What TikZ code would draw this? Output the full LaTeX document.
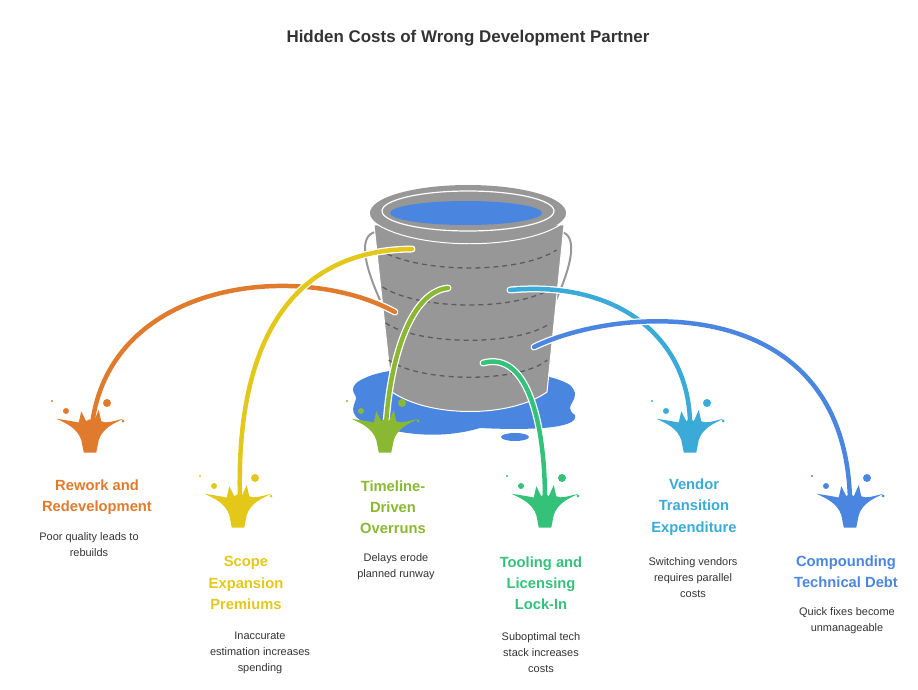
\documentclass[tikz,border=0pt]{standalone}
\usepackage{fontspec}
\setmainfont{Liberation Sans}
\definecolor{cor}{HTML}{E07B2E}
\definecolor{cye}{HTML}{E3C81A}
\definecolor{cgr}{HTML}{8AB833}
\definecolor{ctl}{HTML}{34C27A}
\definecolor{ccy}{HTML}{3AAAD8}
\definecolor{cbl}{HTML}{4A86E0}
\definecolor{bkt}{HTML}{979797}
\definecolor{txt}{HTML}{333333}
\tikzset{
 head/.style={font=\bfseries\fontsize{14.8}{21.3}\selectfont,align=center},
 desc/.style={font=\fontsize{11}{16}\selectfont,align=center,text=txt},
 stream/.style={line width=4.5pt,line cap=round},
 halo/.style={line width=7pt,white,line cap=round},
 splash/.pic={
  \fill[scale=1.25] (-27,-5) .. controls (-18,-1) and (-10,3) .. (-7,12) -- (-5,22) -- (5,22) -- (7,12) .. controls (10,3) and (18,-1) .. (27,-5)
   .. controls (18,-3) and (13,-1) .. (9,-3) -- (7,-12) -- (3,-3) .. controls (1,-5) and (-1,-5) .. (-3,-3) -- (-7,-11) -- (-9,-2) .. controls (-14,-3) and (-20,-4) .. cycle;
  \fill (-24,-14) circle (3); \fill (17,-22) circle (4); \fill (33,-4) circle (1.5); \fill (-38,-24) circle (1.2);
 }
}
\begin{document}
\begin{tikzpicture}[x=1bp,y=-1bp]
\useasboundingbox (0,0) rectangle (918,690);
\node[font=\bfseries\fontsize{17}{21}\selectfont,text=txt] (title) at (468,38) {Hidden Costs of Wrong Development Partner};
% puddle
\fill[cbl] (365,378) .. controls (400,360) and (540,365) .. (570,385) .. controls (585,400) and (560,405) .. (575,415) .. controls (580,430) and (520,430) .. (480,428) .. controls (440,440) and (395,435) .. (360,420) .. controls (345,410) and (360,400) .. (355,395) .. controls (350,388) and (355,382) .. cycle;
\fill[cbl] (515,437) ellipse (14 and 4);
% handles
\draw[bkt,line width=2pt] (375,232) .. controls (360,236) and (362,260) .. (380,300);
\draw[bkt,line width=2pt] (562,232) .. controls (576,236) and (574,260) .. (556,300);
% body
\fill[bkt,draw=white,line width=1pt] (374,225) -- (392,392) .. controls (430,418) and (510,418) .. (547,392) -- (564,225) -- cycle;
\foreach \y/\s in {258/16,295/16,331/15,368/15}
 \draw[txt!80,line width=1.3pt,dash pattern=on 5pt off 4pt] (378+\y/12-20,\y-8) .. controls (420,\y+\s) and (520,\y+\s) .. (558-\y/12+20,\y-8);
% rim
\fill[bkt] (468,213) ellipse (98 and 28);
\draw[white,line width=1.2pt] (468,211) ellipse (86 and 20);
\fill[cbl] (466,213) ellipse (76 and 12);
\draw[white,line width=1pt] (378,225) .. controls (420,250) and (520,250) .. (560,225);
% streams
\foreach \c/\a/\b/\d/\e in {cor/{395,312}/{300,260}/{110,280}/{92,425},
 cye/{412,249}/{300,250}/{235,330}/{240,500},
 cgr/{448,288}/{410,292}/{390,360}/{386,425},
 ctl/{483,363}/{530,350}/{545,430}/{545,500},
 ccy/{510,290}/{620,280}/{690,340}/{690,425},
 cbl/{534,347}/{620,305}/{845,290}/{850,500}}{
 \draw[halo] (\a) .. controls (\b) and (\d) .. (\e);
 \draw[stream,\c] (\a) .. controls (\b) and (\d) .. (\e);
}
\pic[cor] (s1) at (90,425) {splash};
\pic[cye] (s2) at (238,500) {splash};
\pic[cgr] (s3) at (385,425) {splash};
\pic[ctl] (s4) at (545,500) {splash};
\pic[ccy] (s5) at (690,425) {splash};
\pic[cbl] (s6) at (850,500) {splash};
% labels
\node[head,text=cor] (h1) at (97,497) {Rework and\\Redevelopment};
\node[desc] (d1) at (89,545) {Poor quality leads to\\rebuilds};
\node[head,text=cye] (h2) at (246,583) {Scope\\Expansion\\Premiums};
\node[desc] (d2) at (260,653) {Inaccurate\\estimation increases\\spending};
\node[head,text=cgr] (h3) at (393,507) {Timeline-\\Driven\\Overruns};
\node[desc] (d3) at (396,567) {Delays erode\\planned runway};
\node[head,text=ctl] (h4) at (541,583) {Tooling and\\Licensing\\Lock-In};
\node[desc] (d4) at (541,653) {Suboptimal tech\\stack increases\\costs};
\node[head,text=ccy] (h5) at (694,507) {Vendor\\Transition\\Expenditure};
\node[desc] (d5) at (693,578) {Switching vendors\\requires parallel\\costs};
\node[head,text=cbl] (h6) at (846,572) {Compounding\\Technical Debt};
\node[desc] (d6) at (847,621) {Quick fixes become\\unmanageable};
\end{tikzpicture}
\end{document}
